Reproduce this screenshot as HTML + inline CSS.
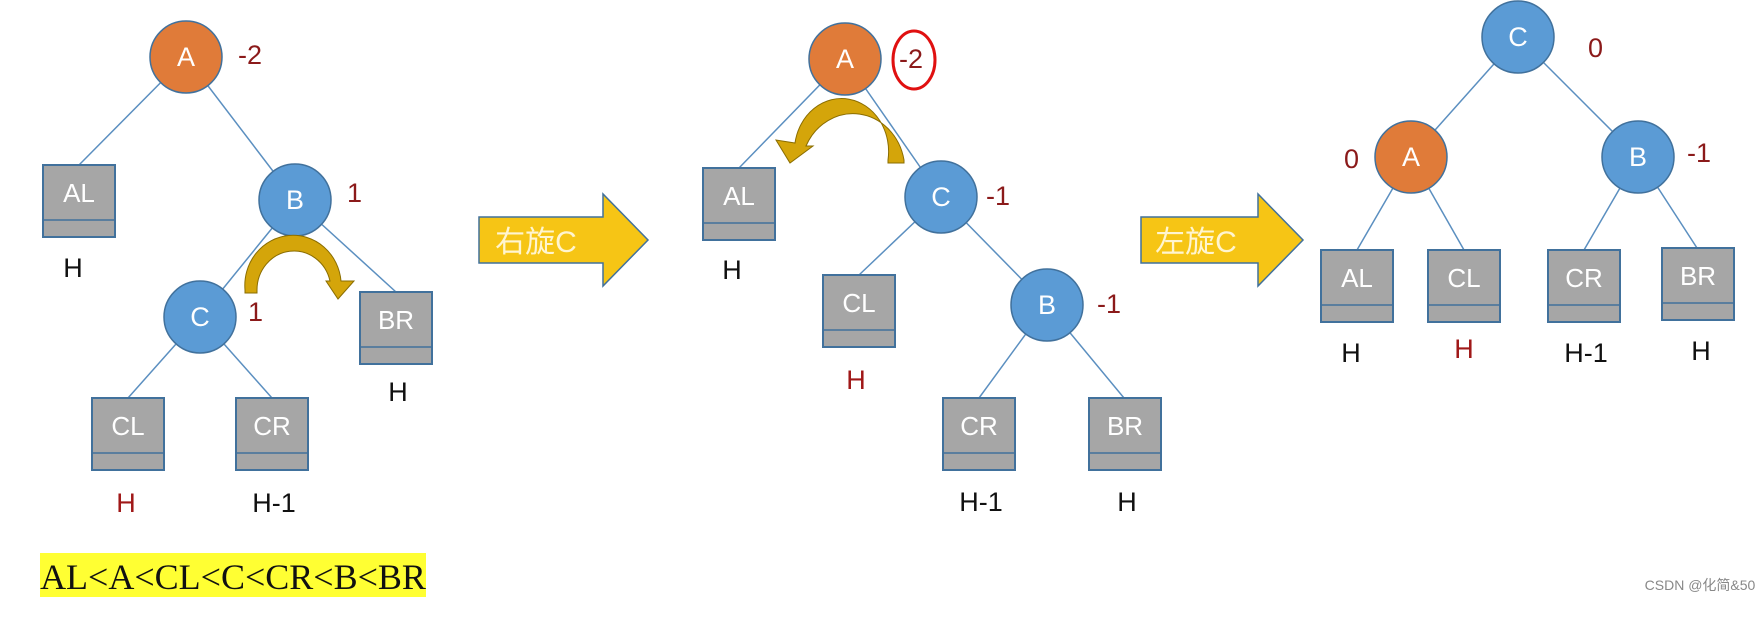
<!DOCTYPE html>
<html><head><meta charset="utf-8"><style>
html,body{margin:0;padding:0;background:#fff;}
svg{display:block;}
.l{stroke:#5b8fc0;stroke-width:1.5;}
.box{fill:#a6a6a6;stroke:#41719c;stroke-width:2;}
.bt{font-family:"Liberation Sans",sans-serif;font-size:26px;fill:#fff;text-anchor:middle;}
.ct{font-family:"Liberation Sans",sans-serif;font-size:27px;fill:#fff;text-anchor:middle;}
.bf{font-family:"Liberation Sans",sans-serif;font-size:27px;fill:#8b1a1a;}
.h{font-family:"Liberation Sans",sans-serif;font-size:27px;fill:#111;text-anchor:middle;}
.hr{font-family:"Liberation Sans",sans-serif;font-size:27px;fill:#a01818;text-anchor:middle;}
.o{fill:#e07b39;stroke:#41719c;stroke-width:1.5;}
.b{fill:#5b9bd5;stroke:#41719c;stroke-width:1.5;}
</style></head><body>
<svg width="1758" height="621" viewBox="0 0 1758 621" xmlns="http://www.w3.org/2000/svg">
<defs>
<g id="bx"><rect class="box" x="0" y="0" width="72" height="72"/><line x1="0" y1="55" x2="72" y2="55" stroke="#41719c" stroke-width="1.5"/></g>
</defs>
<!-- Panel 1 -->
<line class="l" x1="186" y1="57" x2="79" y2="165"/>
<line class="l" x1="186" y1="57" x2="295" y2="200"/>
<line class="l" x1="295" y1="200" x2="200" y2="317"/>
<line class="l" x1="295" y1="200" x2="396" y2="292"/>
<line class="l" x1="200" y1="317" x2="128" y2="398"/>
<line class="l" x1="200" y1="317" x2="272" y2="398"/>
<circle class="o" cx="186" cy="57" r="36"/><text class="ct" x="186" y="66">A</text>
<circle class="b" cx="295" cy="200" r="36"/><text class="ct" x="295" y="209">B</text>
<circle class="b" cx="200" cy="317" r="36"/><text class="ct" x="200" y="326">C</text>
<use href="#bx" x="43" y="165"/><text class="bt" x="79" y="202">AL</text>
<use href="#bx" x="360" y="292"/><text class="bt" x="396" y="329">BR</text>
<use href="#bx" x="92" y="398"/><text class="bt" x="128" y="435">CL</text>
<use href="#bx" x="236" y="398"/><text class="bt" x="272" y="435">CR</text>
<text class="bf" x="238" y="64">-2</text>
<text class="bf" x="347" y="202">1</text>
<text class="bf" x="248" y="321">1</text>
<text class="h" x="73" y="277">H</text>
<text class="h" x="398" y="401">H</text>
<text class="hr" x="126" y="512">H</text>
<text class="h" x="274" y="512">H-1</text>
<path d="M245,293 L245,290 A48,50 0 0 1 341,281 L354,281 L338,299 L326,281 L330,281 A37,39 0 0 0 257,290 L257,293 Z" fill="#d4a50a" stroke="#8a6d00" stroke-width="1"/>
<rect x="40" y="553" width="386" height="44" fill="#ffff33"/>
<text x="233" y="589" font-family="'Liberation Serif',serif" font-size="36" fill="#111" text-anchor="middle">AL&lt;A&lt;CL&lt;C&lt;CR&lt;B&lt;BR</text>
<!-- Arrow 1 -->
<path d="M479,217 L603,217 L603,194 L648,240 L603,286 L603,263 L479,263 Z" fill="#f6c515" stroke="#41719c" stroke-width="1.5"/>
<text x="536" y="252" font-family="'Liberation Sans','Noto Sans CJK SC',sans-serif" font-size="30" fill="#fff5d0" text-anchor="middle">右旋C</text>
<!-- Panel 2 -->
<line class="l" x1="845" y1="59" x2="739" y2="168"/>
<line class="l" x1="845" y1="59" x2="941" y2="197"/>
<line class="l" x1="941" y1="197" x2="859" y2="275"/>
<line class="l" x1="941" y1="197" x2="1047" y2="305"/>
<line class="l" x1="1047" y1="305" x2="979" y2="398"/>
<line class="l" x1="1047" y1="305" x2="1124" y2="398"/>
<circle class="o" cx="845" cy="59" r="36"/><text class="ct" x="845" y="68">A</text>
<circle class="b" cx="941" cy="197" r="36"/><text class="ct" x="941" y="206">C</text>
<circle class="b" cx="1047" cy="305" r="36"/><text class="ct" x="1047" y="314">B</text>
<use href="#bx" x="703" y="168"/><text class="bt" x="739" y="205">AL</text>
<use href="#bx" x="823" y="275"/><text class="bt" x="859" y="312">CL</text>
<use href="#bx" x="943" y="398"/><text class="bt" x="979" y="435">CR</text>
<use href="#bx" x="1089" y="398"/><text class="bt" x="1125" y="435">BR</text>
<text class="bf" x="899" y="68">-2</text>
<ellipse cx="914" cy="60" rx="21" ry="29" fill="none" stroke="#e01010" stroke-width="3"/>
<text class="bf" x="986" y="205">-1</text>
<text class="bf" x="1097" y="313">-1</text>
<text class="h" x="732" y="279">H</text>
<text class="hr" x="856" y="389">H</text>
<text class="h" x="981" y="511">H-1</text>
<text class="h" x="1127" y="511">H</text>
<path d="M904,163 L904,160 A52,57 0 0 0 806,146 L813,146 L790,163 L776,140 L795,143 A40,45 0 0 1 888,160 L888,163 Z" fill="#d4a50a" stroke="#8a6d00" stroke-width="1"/>
<!-- Arrow 2 -->
<path d="M1141,217 L1258,217 L1258,194 L1303,240 L1258,286 L1258,263 L1141,263 Z" fill="#f6c515" stroke="#41719c" stroke-width="1.5"/>
<text x="1196" y="252" font-family="'Liberation Sans','Noto Sans CJK SC',sans-serif" font-size="30" fill="#fff5d0" text-anchor="middle">左旋C</text>
<!-- Panel 3 -->
<line class="l" x1="1518" y1="37" x2="1411" y2="157"/>
<line class="l" x1="1518" y1="37" x2="1638" y2="157"/>
<line class="l" x1="1411" y1="157" x2="1357" y2="250"/>
<line class="l" x1="1411" y1="157" x2="1464" y2="250"/>
<line class="l" x1="1638" y1="157" x2="1584" y2="250"/>
<line class="l" x1="1638" y1="157" x2="1697" y2="248"/>
<circle class="b" cx="1518" cy="37" r="36"/><text class="ct" x="1518" y="46">C</text>
<circle class="o" cx="1411" cy="157" r="36"/><text class="ct" x="1411" y="166">A</text>
<circle class="b" cx="1638" cy="157" r="36"/><text class="ct" x="1638" y="166">B</text>
<use href="#bx" x="1321" y="250"/><text class="bt" x="1357" y="287">AL</text>
<use href="#bx" x="1428" y="250"/><text class="bt" x="1464" y="287">CL</text>
<use href="#bx" x="1548" y="250"/><text class="bt" x="1584" y="287">CR</text>
<use href="#bx" x="1662" y="248"/><text class="bt" x="1698" y="285">BR</text>
<text class="bf" x="1588" y="57">0</text>
<text class="bf" x="1344" y="168">0</text>
<text class="bf" x="1687" y="162">-1</text>
<text class="h" x="1351" y="362">H</text>
<text class="hr" x="1464" y="358">H</text>
<text class="h" x="1586" y="362">H-1</text>
<text class="h" x="1701" y="360">H</text>
<text x="1700" y="590" font-family="'Liberation Sans','Noto Sans CJK SC',sans-serif" font-size="14" fill="#888" text-anchor="middle">CSDN @化简&amp;50</text>
</svg>
</body></html>
